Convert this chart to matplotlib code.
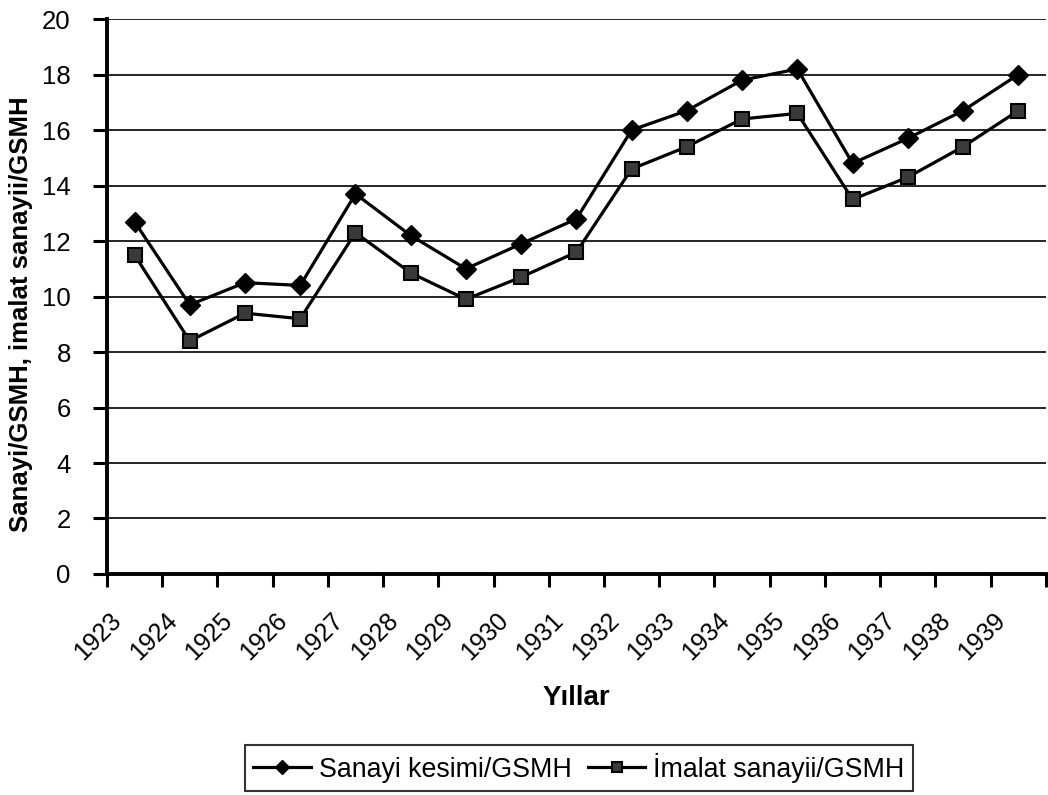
import numpy as np
import matplotlib
matplotlib.use("Agg")
import matplotlib.pyplot as plt
import matplotlib.transforms as mtransforms

years = [str(y) for y in range(1923, 1940)]
sanayi = [12.7, 9.7, 10.5, 10.4, 13.7, 12.2, 11.0, 11.9, 12.8,
          16.0, 16.7, 17.8, 18.2, 14.8, 15.7, 16.7, 18.0]
imalat = [11.5, 8.4, 9.4, 9.2, 12.3, 10.85, 9.9, 10.7, 11.6,
          14.6, 15.4, 16.4, 16.6, 13.5, 14.3, 15.4, 16.7]

plt.rcParams['font.family'] = ['Liberation Sans', 'DejaVu Sans']


def main():
    fig = plt.figure(figsize=(10.48, 7.95), dpi=100)
    ax = fig.add_axes([0.102, 0.278, 0.896, 0.698])

    x = np.arange(len(years))
    ax.plot(x, sanayi, "-", color="black", lw=2.3, marker="D", ms=10,
            mfc="black", mec="black", label="Sanayi kesimi/GSMH")
    ax.plot(x, imalat, "-", color="black", lw=2.3, marker="s", ms=10,
            mfc="#3a3a3a", mec="black", mew=1.5, label="İmalat sanayii/GSMH")

    ax.set_xlim(-0.5, len(years) - 0.5)
    ax.set_ylim(0, 20)
    ax.set_yticks(np.arange(0, 21, 2))
    ax.yaxis.grid(True, color="black", lw=1.2)
    ax.set_axisbelow(True)

    # ticks between categories, labels at centres
    ax.set_xticks(np.arange(-0.5, len(years), 1))
    ax.set_xticklabels([])
    ax.set_xticks(x, minor=True)
    ax.set_xticklabels(years, minor=True, rotation=45, ha="right",
                       va="top", rotation_mode="anchor", fontsize=18)
    ax.tick_params(axis="x", which="minor", length=0, pad=0)
    shift = mtransforms.ScaledTranslation(-0.25, -0.34, fig.dpi_scale_trans)
    for lab in ax.get_xticklabels(minor=True):
        lab.set_transform(lab.get_transform() + shift)
    ax.tick_params(axis="x", which="major", length=9, width=2.2)
    ax.tick_params(axis="y", length=10, width=2.2, labelsize=18.5, pad=16)

    for s in ["top", "right"]:
        ax.spines[s].set_visible(False)
    for s in ["left", "bottom"]:
        ax.spines[s].set_linewidth(2.8)

    ax.set_xlabel("Yıllar", fontsize=20, fontweight="bold")
    ax.xaxis.set_label_coords(0.5, -0.2)
    ax.set_ylabel("Sanayi/GSMH, imalat sanayii/GSMH", fontsize=18.5,
                  fontweight="bold")
    ax.yaxis.set_label_coords(-0.0788, 0.469)

    leg = fig.legend(loc="upper center", bbox_to_anchor=(0.5525, 0.0635),
                     ncol=2, fontsize=19.3, frameon=True, fancybox=False,
                     edgecolor="black", handlelength=2.13, handletextpad=0.3,
                     columnspacing=0.63, borderpad=0.3, borderaxespad=0,
                     markerscale=0.75)
    leg.get_frame().set_linewidth(1.5)

    fig.savefig("out.png", dpi=100)


if __name__ == "__main__":
    main()
